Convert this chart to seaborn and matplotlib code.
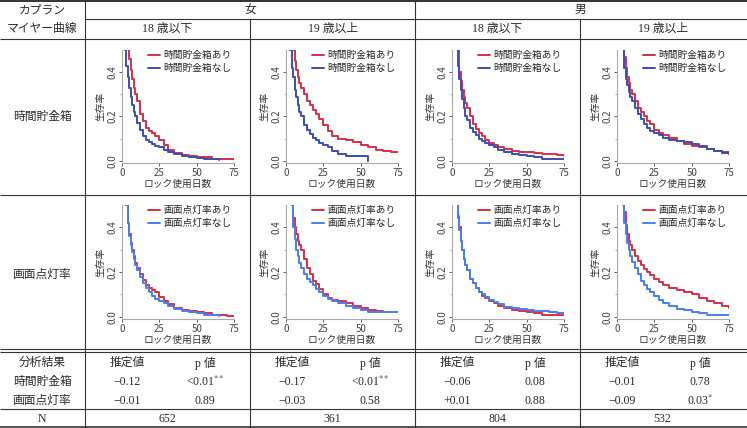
import matplotlib
matplotlib.use("Agg")
import matplotlib.pyplot as plt
import numpy as np
import pandas as pd
import seaborn as sns

nan = np.nan

days = [0, 2, 3, 4, 5, 6, 7, 8, 9, 10, 12, 14, 16, 18, 20, 22, 25, 28, 31, 35, 40, 45, 50, 55, 60, 65, 70, 75]

# 時間貯金箱 (row 1)
f18_box_yes = [1.0, 0.80, 0.70, 0.52, 0.46, 0.41, 0.37, 0.33, 0.30, 0.27, 0.21, 0.18, 0.15, 0.135, 0.125, 0.11, 0.095, 0.07, 0.05, 0.035, 0.025, 0.02, 0.018, 0.015, 0.01, 0.008, 0.008, 0.008]
f18_box_no = [1.0, 0.50, 0.43, 0.38, 0.33, 0.29, 0.25, 0.22, 0.20, 0.17, 0.14, 0.11, 0.095, 0.085, 0.075, 0.068, 0.06, 0.05, 0.04, 0.03, 0.02, 0.015, 0.012, 0.01, 0.008, 0.005, nan, nan]
f19_box_yes = [1.0, 0.85, 0.75, 0.60, 0.50, 0.45, 0.41, 0.38, 0.35, 0.33, 0.30, 0.27, 0.25, 0.23, 0.21, 0.19, 0.16, 0.135, 0.11, 0.10, 0.095, 0.085, 0.07, 0.06, 0.05, 0.045, 0.04, 0.04]
f19_box_no = [1.0, 0.70, 0.50, 0.42, 0.38, 0.32, 0.29, 0.25, 0.22, 0.20, 0.16, 0.14, 0.12, 0.105, 0.095, 0.08, 0.07, 0.06, 0.045, 0.03, 0.02, 0.02, 0.02, 0.0, nan, nan, nan, nan]
m18_box_yes = [1.0, 0.80, 0.62, 0.50, 0.40, 0.36, 0.32, 0.29, 0.26, 0.24, 0.20, 0.165, 0.145, 0.125, 0.11, 0.095, 0.08, 0.07, 0.06, 0.052, 0.045, 0.04, 0.038, 0.035, 0.032, 0.03, 0.025, 0.02]
m18_box_no = [1.0, 0.75, 0.52, 0.43, 0.37, 0.32, 0.28, 0.24, 0.20, 0.185, 0.15, 0.13, 0.115, 0.10, 0.09, 0.08, 0.07, 0.06, 0.05, 0.04, 0.03, 0.025, 0.02, 0.015, 0.01, 0.01, 0.01, 0.01]
m19_box_yes = [1.0, 0.85, 0.70, 0.55, 0.47, 0.42, 0.38, 0.35, 0.32, 0.30, 0.27, 0.24, 0.22, 0.20, 0.18, 0.165, 0.14, 0.125, 0.115, 0.105, 0.09, 0.075, 0.065, 0.06, 0.055, 0.045, 0.038, 0.03]
m19_box_no = [1.0, 0.85, 0.70, 0.52, 0.42, 0.37, 0.34, 0.31, 0.29, 0.27, 0.24, 0.21, 0.19, 0.165, 0.15, 0.135, 0.125, 0.115, 0.105, 0.095, 0.09, 0.085, 0.075, 0.065, 0.055, 0.045, 0.035, 0.03]

# 画面点灯率 (row 2)
f18_scr_yes = [1.0, 0.70, 0.50, 0.42, 0.37, 0.33, 0.30, 0.27, 0.24, 0.22, 0.19, 0.165, 0.14, 0.13, 0.12, 0.11, 0.09, 0.07, 0.055, 0.04, 0.03, 0.025, 0.02, 0.015, 0.01, 0.008, 0.005, 0.005]
f18_scr_no = [1.0, 0.70, 0.50, 0.42, 0.36, 0.32, 0.29, 0.26, 0.23, 0.21, 0.18, 0.15, 0.13, 0.11, 0.095, 0.08, 0.07, 0.06, 0.05, 0.035, 0.025, 0.02, 0.015, 0.01, 0.008, 0.005, nan, nan]
f19_scr_yes = [1.0, 0.80, 0.60, 0.50, 0.44, 0.40, 0.37, 0.34, 0.32, 0.30, 0.26, 0.22, 0.19, 0.16, 0.145, 0.125, 0.10, 0.085, 0.075, 0.07, 0.06, 0.05, 0.04, 0.03, 0.025, 0.02, 0.02, 0.02]
f19_scr_no = [1.0, 0.80, 0.60, 0.50, 0.40, 0.35, 0.30, 0.27, 0.24, 0.22, 0.19, 0.17, 0.155, 0.14, 0.125, 0.11, 0.095, 0.08, 0.07, 0.06, 0.05, 0.04, 0.03, 0.02, 0.02, 0.02, 0.02, 0.02]
m18_scr_yes = [1.0, 0.70, 0.52, 0.45, 0.40, 0.34, 0.30, 0.26, 0.23, 0.21, 0.17, 0.15, 0.13, 0.11, 0.095, 0.085, 0.07, 0.06, 0.05, 0.04, 0.03, 0.025, 0.02, 0.015, 0.01, 0.01, 0.01, 0.01]
m18_scr_no = [1.0, 0.70, 0.52, 0.44, 0.39, 0.34, 0.30, 0.26, 0.23, 0.21, 0.17, 0.15, 0.13, 0.11, 0.10, 0.09, 0.075, 0.065, 0.055, 0.045, 0.04, 0.035, 0.03, 0.028, 0.025, 0.02, 0.015, 0.01]
m19_scr_yes = [1.0, 0.85, 0.70, 0.55, 0.47, 0.41, 0.37, 0.34, 0.32, 0.30, 0.27, 0.25, 0.23, 0.215, 0.20, 0.185, 0.17, 0.155, 0.14, 0.13, 0.12, 0.11, 0.10, 0.085, 0.07, 0.06, 0.05, 0.04]
m19_scr_no = [1.0, 0.85, 0.70, 0.50, 0.42, 0.37, 0.33, 0.30, 0.27, 0.245, 0.22, 0.19, 0.16, 0.14, 0.125, 0.11, 0.095, 0.075, 0.06, 0.05, 0.035, 0.03, 0.02, 0.015, 0.01, 0.01, 0.01, 0.01]

sexes = ["女", "男"]
age_groups = ["18 歳以下", "19 歳以上", "18 歳以下", "19 歳以上"]
factors = ["時間貯金箱", "画面点灯率"]
estimates_box = ["−0.12", "−0.17", "−0.06", "−0.01"]
pvalues_box = ["<0.01$^{**}$", "<0.01$^{**}$", "0.08", "0.78"]
estimates_scr = ["−0.01", "−0.03", "+0.01", "−0.09"]
pvalues_scr = ["0.89", "0.58", "0.88", "0.03$^{*}$"]
n_users = ["652", "361", "804", "532"]

panels = [
    [(f18_box_yes, f18_box_no), (f19_box_yes, f19_box_no), (m18_box_yes, m18_box_no), (m19_box_yes, m19_box_no)],
    [(f18_scr_yes, f18_scr_no), (f19_scr_yes, f19_scr_no), (m18_scr_yes, m18_scr_no), (m19_scr_yes, m19_scr_no)],
]

sns.set_theme(style="ticks")
plt.rcParams["font.family"] = ["Noto Sans CJK JP", "DejaVu Sans"]
plt.rcParams["mathtext.fontset"] = "stix"

W, H = 747, 428
fig = plt.figure(figsize=(W / 100, H / 100), dpi=100)

# table frame in pixel coordinates
grid = fig.add_axes([0, 0, 1, 1])
grid.set_xlim(0, W)
grid.set_ylim(H, 0)
grid.axis("off")
line_c = "#333333"


def hline(y, x0=0, x1=W, lw=0.8):
    grid.plot([x0, x1], [y, y], color=line_c, lw=lw, solid_capstyle="butt")


def vline(x, y0=0, y1=H, lw=0.8):
    grid.plot([x, x], [y0, y1], color=line_c, lw=lw, solid_capstyle="butt")


hline(1, lw=1.4)
hline(19, 85)
hline(39)
hline(195)
hline(349)
hline(352)
hline(409)
hline(427, lw=1.2)
vline(85)
vline(415)
vline(250, 19)
vline(580, 19)

# serif for latin digits, CJK falls back to Noto
txt = dict(ha="center", va="center", fontsize=8.5, color="#2a2a2a",
           family=["Liberation Serif", "Noto Sans CJK JP"])
grid.text(42, 10, "カプラン", **txt)
grid.text(42, 29, "マイヤー曲線", **txt)
grid.text(250, 10, sexes[0], **txt)
grid.text(580, 10, sexes[1], **txt)
col_left = [85, 250, 415, 580]
for c, lab in enumerate(age_groups):
    grid.text(col_left[c] + 82.5, 29, lab, **txt)
grid.text(42, 117, factors[0], **txt)
grid.text(42, 275, factors[1], **txt)

grid.text(42, 363, "分析結果", **txt)
grid.text(42, 382, factors[0], **txt)
grid.text(42, 401, factors[1], **txt)
grid.text(42, 419, "N", **txt)
for c in range(4):
    x0 = col_left[c]
    grid.text(x0 + 42, 363, "推定値", **txt)
    grid.text(x0 + 120, 363, "p 値", **txt)
    grid.text(x0 + 42, 382, estimates_box[c], **txt)
    grid.text(x0 + 120, 382, pvalues_box[c], **txt)
    grid.text(x0 + 42, 401, estimates_scr[c], **txt)
    grid.text(x0 + 120, 401, pvalues_scr[c], **txt)
    grid.text(x0 + 82.5, 419, n_users[c], **txt)

# Kaplan-Meier panels
red = "#d6304b"
blues = ["#3c4db5", "#4a7ef0"]
ax_left = [122, 286, 452, 617]
row_top = [50, 205]
row_bot = [163, 319]
for r in range(2):
    labels = [factors[r] + "あり", factors[r] + "なし"]
    for c in range(4):
        yes, no = panels[r][c]
        df = pd.DataFrame({
            "day": days * 2,
            "surv": yes + no,
            "group": [labels[0]] * len(days) + [labels[1]] * len(days),
        })
        ax = fig.add_axes([ax_left[c] / W, 1 - row_bot[r] / H, 112 / W, (row_bot[r] - row_top[r]) / H])
        sns.lineplot(data=df, x="day", y="surv", hue="group", palette=[red, blues[r]],
                     estimator=None, drawstyle="steps-post", lw=1.4, legend=False, ax=ax)
        ax.set_xlim(0, 75)
        ax.set_ylim(-0.01, 0.5)
        ax.set_xticks([0, 25, 50, 75])
        ax.set_yticks([0.0, 0.2, 0.4])
        ax.set_yticks([0.1, 0.3], minor=True)
        ax.set_yticklabels(["0.0", "0.2", "0.4"], rotation=90, va="center")
        ax.tick_params(labelsize=7, length=2.5, pad=1, colors="#444444", width=0.6)
        ax.tick_params(which="minor", length=1.5, width=0.5, colors="#888888")
        for s in ["top", "right"]:
            ax.spines[s].set_visible(False)
        for s in ["left", "bottom"]:
            ax.spines[s].set_color("#aaaaaa")
            ax.spines[s].set_linewidth(0.8)
        ax.set_xlabel("ロック使用日数", fontsize=7, labelpad=1, color="#333333")
        ax.set_ylabel("生存率", fontsize=7, color="#333333")
        ax.yaxis.set_label_coords(-0.15, 0.5)
        ax.legend(ax.lines, labels, loc="upper right", bbox_to_anchor=(1.03, 1.05), frameon=False,
                  fontsize=7, handlelength=1.3, handletextpad=0.3, labelspacing=0.3, borderpad=0.1)
        ax.patch.set_alpha(0)

fig.savefig("out.png", dpi=100)
